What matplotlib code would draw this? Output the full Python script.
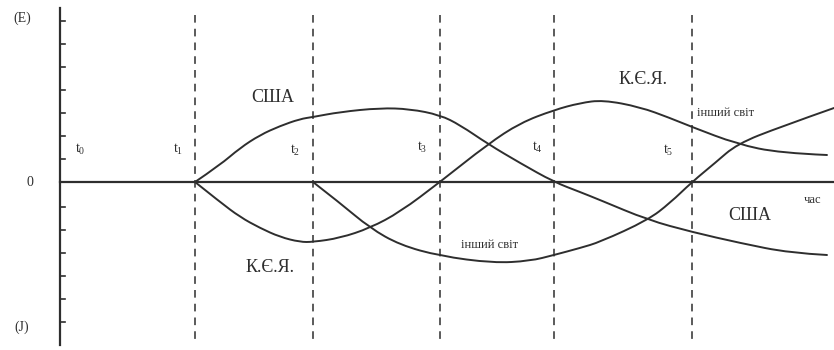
import matplotlib
matplotlib.use("Agg")
import matplotlib.pyplot as plt
from matplotlib.path import Path
from matplotlib.patches import PathPatch

# ── Data (x = time, y = share, 0 = balance) ──
usa_x = [195, 220, 240, 260, 280, 300, 313, 340, 380, 410, 440, 460, 488, 520,
         554, 580, 600, 648, 692, 740, 790, 827]
usa_y = [0, 17, 34, 47, 56, 63, 65, 70, 74, 73, 67, 57, 38, 19,
         0, -10, -18, -38, -50, -61, -71, -73]

eu_x = [195, 220, 240, 260, 280, 300, 313, 340, 370, 400, 440, 488, 520, 554,
        580, 603, 640, 670, 692, 737, 780, 827]
eu_y = [0, -20, -35, -46, -55, -60, -60, -56, -46, -30, 0, 38, 59, 72,
        79, 82, 75, 64, 55, 38, 29, 27]

world_x = [313, 340, 370, 400, 440, 493, 530, 554, 580, 600, 648, 670, 692,
           715, 737, 780, 834]
world_y = [0, -21, -46, -63, -74, -81, -79, -73, -66, -60, -38, -21, 0,
           19, 38, 55, 74]

t_pos = [195, 313, 440, 554, 692]
t_labels = ["t$_0$", "t$_1$", "t$_2$", "t$_3$", "t$_4$", "t$_5$"]
t_label_x = [80, 178, 295, 422, 537, 668]
t_label_y = [33, 33, 32, 35, 35, 32]

ytick_vals = [161, 138, 115, 92, 69, 46, 23, -25, -48, -71, -94, -117, -140]

INK = "#2e2e2e"
plt.rcParams["font.family"] = ["Liberation Serif", "DejaVu Serif"]
plt.rcParams["mathtext.default"] = "regular"


def smooth_path(xs, ys):
    # quadratic bezier: read points act as control points, curve runs
    # through the midpoints -> a smooth line like the hand-drawn original
    pts = list(zip(xs, ys))
    verts = [pts[0]]
    codes = [Path.MOVETO]
    for i in range(1, len(pts) - 1):
        mid = ((pts[i][0] + pts[i + 1][0]) / 2, (pts[i][1] + pts[i + 1][1]) / 2)
        if i == len(pts) - 2:
            mid = pts[-1]
        verts += [pts[i], mid]
        codes += [Path.CURVE3, Path.CURVE3]
    return Path(verts, codes)


fig = plt.figure(figsize=(8.34, 3.5), dpi=100)
ax = fig.add_axes([0, 0, 1, 1])
ax.set_xlim(0, 834)
ax.set_ylim(-168, 182)
ax.axis("off")

# axes of the diagram
ax.plot([60, 60], [-163, 174], color=INK, lw=1.6)
ax.plot([60, 834], [0, 0], color=INK, lw=1.6)
for v in ytick_vals:
    ax.plot([60, 65], [v, v], color=INK, lw=1.2)

# period boundaries
for x in t_pos:
    ax.plot([x, x], [167, -163], color=INK, lw=1.1, linestyle=(0, (5, 4)))

# curves
for xs, ys in [(usa_x, usa_y), (eu_x, eu_y), (world_x, world_y)]:
    ax.add_patch(PathPatch(smooth_path(xs, ys), facecolor="none",
                           edgecolor=INK, lw=1.4, capstyle="round"))

# texts
ax.text(22, 164, "(E)", fontsize=10, color=INK, ha="center", va="center")
ax.text(30, 0, "0", fontsize=10, color=INK, ha="center", va="center")
ax.text(22, -145, "(J)", fontsize=10, color=INK, ha="center", va="center")
for lab, lx, ly in zip(t_labels, t_label_x, t_label_y):
    ax.text(lx, ly, lab, fontsize=10, color=INK, ha="center", va="center")

ax.text(273, 84, "США", fontsize=13, color=INK, ha="center", va="center")
ax.text(270, -86, "К.Є.Я.", fontsize=13, color=INK, ha="center", va="center")
ax.text(490, -63, "інший світ", fontsize=9, color=INK, ha="center", va="center")
ax.text(643, 102, "К.Є.Я.", fontsize=13, color=INK, ha="center", va="center")
ax.text(697, 69, "інший світ", fontsize=9, color=INK, ha="left", va="center")
ax.text(750, -33, "США", fontsize=13, color=INK, ha="center", va="center")
ax.text(813, -18, "час", fontsize=9, color=INK, ha="center", va="center")

fig.savefig("out.png", dpi=100, facecolor="white")
